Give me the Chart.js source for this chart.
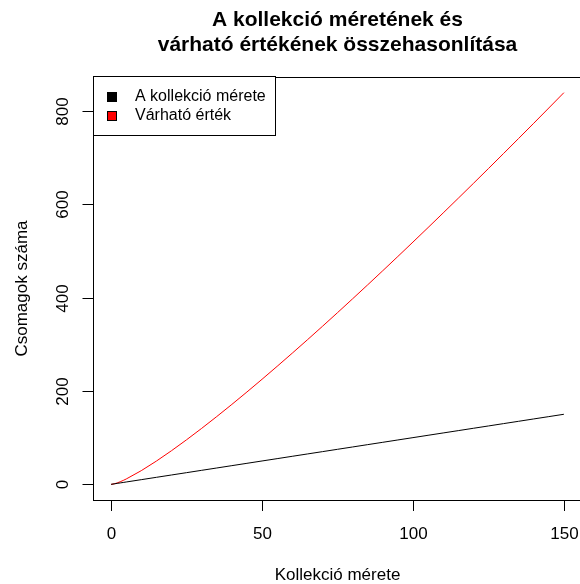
<!DOCTYPE html>
<html>
<head>
<meta charset="utf-8">
<script src="https://cdn.jsdelivr.net/npm/chart.js@4/dist/chart.umd.min.js"></script>
<style>
  html, body { margin: 0; padding: 0; background: #fff; overflow: hidden; }
  #wrap { width: 600px; height: 584px; }
</style>
</head>
<body>
<div id="wrap"><canvas id="c" width="600" height="584"></canvas></div>
<script>
// Collection size n and the expected number of packages needed to complete it
const collectionSize = [0, 1, 2, 3, 4, 5, 10, 15, 20, 25, 30, 35, 40, 45, 50, 55, 60, 65, 70, 75,
  80, 85, 90, 95, 100, 105, 110, 115, 120, 125, 130, 135, 140, 145, 150];
const sizeLine = [0, 1, 2, 3, 4, 5, 10, 15, 20, 25, 30, 35, 40, 45, 50, 55, 60, 65, 70, 75,
  80, 85, 90, 95, 100, 105, 110, 115, 120, 125, 130, 135, 140, 145, 150];
const expectedValue = [0, 1, 3, 5.5, 8.33, 11.42, 29.29, 49.77, 71.95, 95.40, 119.85, 145.14, 171.14,
  197.77, 224.96, 252.65, 280.79, 309.35, 338.30, 367.60, 397.24, 427.19, 457.42,
  487.94, 518.74, 549.77, 581.05, 612.55, 644.26, 676.19, 708.32, 740.64, 773.14,
  805.82, 838.68];

const xTicks = [0, 50, 100, 150];
const yTicks = [0, 200, 400, 600, 800];

const seriesNames = ['A kollekció mérete', 'Várható érték'];
const seriesColors = ['#000000', '#ff0000'];

const titleLines = ['A kollekció méretének és', 'várható értékének összehasonlítása'];
const xTitle = 'Kollekció mérete';
const yTitle = 'Csomagok száma';

const FONT = '"Liberation Sans", Arial, Helvetica, sans-serif';

const toPoints = (xs, ys) => xs.map((v, i) => ({ x: v, y: ys[i] }));

// Axis frame, ticks, labels, titles and legend drawn around the plot area
const frame = {
  id: 'frame',
  afterDraw(chart) {
    const { ctx, chartArea: a, scales: { x, y } } = chart;
    const L = Math.round(a.left), T = Math.round(a.top);
    const R = Math.round(a.right), B = Math.round(a.bottom);
    ctx.save();
    ctx.strokeStyle = '#000';
    ctx.fillStyle = '#000';
    ctx.lineWidth = 1;

    // box around the plot region
    ctx.strokeRect(L + 0.5, T + 0.5, R - L, B - T);

    // x ticks and labels
    ctx.font = '17px ' + FONT;
    ctx.textAlign = 'center';
    ctx.textBaseline = 'alphabetic';
    xTicks.forEach(v => {
      const px = Math.round(x.getPixelForValue(v)) + 0.5;
      ctx.beginPath();
      ctx.moveTo(px, B + 0.5);
      ctx.lineTo(px, B + 11);
      ctx.stroke();
      ctx.fillText(String(v), px, B + 39);
    });

    // y ticks and rotated labels
    yTicks.forEach(v => {
      const py = Math.round(y.getPixelForValue(v)) + 0.5;
      ctx.beginPath();
      ctx.moveTo(L + 0.5, py);
      ctx.lineTo(L - 10.5, py);
      ctx.stroke();
      ctx.save();
      ctx.translate(L - 25, py);
      ctx.rotate(-Math.PI / 2);
      ctx.fillText(String(v), 0, 0);
      ctx.restore();
    });

    // axis titles
    const cx = (a.left + a.right) / 2;
    const cy = (a.top + a.bottom) / 2;
    ctx.fillText(xTitle, cx, B + 80);
    ctx.save();
    ctx.translate(27, cy);
    ctx.rotate(-Math.PI / 2);
    ctx.fillText(yTitle, 0, 0);
    ctx.restore();

    // main title
    ctx.font = 'bold 21px ' + FONT;
    ctx.fillText(titleLines[0], cx, 26);
    ctx.fillText(titleLines[1], cx, 51);

    // legend
    const lx = L, ly = 76, lw = 182, lh = 59;
    ctx.fillStyle = '#fff';
    ctx.fillRect(lx, ly, lw, lh);
    ctx.strokeRect(lx + 0.5, ly + 0.5, lw, lh);
    ctx.font = '16px ' + FONT;
    ctx.textAlign = 'left';
    ctx.textBaseline = 'middle';
    seriesNames.forEach((name, i) => {
      const rowY = ly + 20.5 + i * 19.5;
      const sy = Math.round(rowY - 5);
      ctx.fillStyle = seriesColors[i];
      ctx.fillRect(lx + 14, sy, 10, 10);
      ctx.strokeStyle = '#000';
      ctx.strokeRect(lx + 14.5, sy + 0.5, 9, 9);
      ctx.fillStyle = '#000';
      ctx.fillText(name, lx + 42, rowY);
    });
    ctx.restore();
  }
};

new Chart(document.getElementById('c'), {
  type: 'line',
  data: {
    datasets: [
      {
        label: seriesNames[0],
        data: toPoints(collectionSize, sizeLine),
        borderColor: seriesColors[0],
        borderWidth: 1,
        pointRadius: 0,
        fill: false
      },
      {
        label: seriesNames[1],
        data: toPoints(collectionSize, expectedValue),
        borderColor: seriesColors[1],
        borderWidth: 1,
        pointRadius: 0,
        fill: false
      }
    ]
  },
  options: {
    responsive: false,
    animation: false,
    devicePixelRatio: 1,
    layout: { padding: { left: 93, top: 77, right: 18, bottom: 84 } },
    plugins: {
      legend: { display: false },
      title: { display: false },
      tooltip: { enabled: false }
    },
    scales: {
      x: { type: 'linear', display: false, min: -6, max: 156 },
      y: { type: 'linear', display: false, min: -33.55, max: 872.22 }
    }
  },
  plugins: [frame]
});
</script>
</body>
</html>
